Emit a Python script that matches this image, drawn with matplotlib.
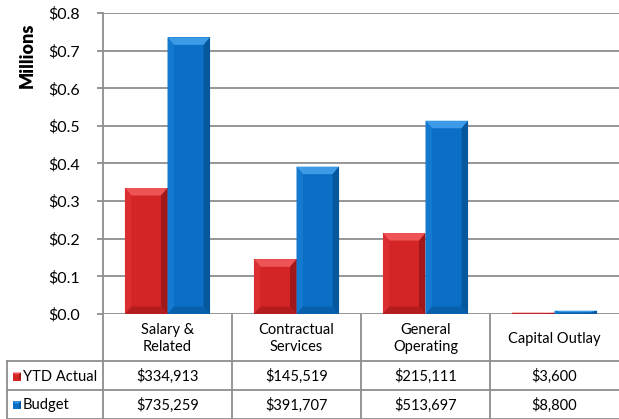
import matplotlib
matplotlib.use("Agg")
import matplotlib.pyplot as plt
from matplotlib.patches import Polygon, Rectangle
from matplotlib.ticker import FuncFormatter, MultipleLocator

plt.rcParams['font.family'] = ['Lato', 'DejaVu Sans']

# Expenditure data (dollars)
categories = ["Salary &\nRelated", "Contractual\nServices", "General\nOperating", "Capital Outlay"]
series_names = ["YTD Actual", "Budget"]
ytd_actual = [334913, 145519, 215111, 3600]
budget = [735259, 391707, 513697, 8800]

# face, top-light, side-dark, side-light colours for each series
palette = {
    "YTD Actual": ("#D32426", "#EE5456", "#A0181A", "#DA2E30"),
    "Budget": ("#0B6FC5", "#3C9AE6", "#07579C", "#137AD0"),
}

W, H = 619, 419
fig = plt.figure(figsize=(W / 100, H / 100), dpi=100)

left_px, right_px, top_px, base_px = 103, 619, 13, 314
ax = fig.add_axes([left_px / W, 1 - base_px / H, (right_px - left_px) / W, (base_px - top_px) / H])

ax.set_xlim(-0.5, len(categories) - 0.5)
ax.set_ylim(0, 0.8)
grid_col = "#8E8E8E"
ax.yaxis.set_major_locator(MultipleLocator(0.1))
ax.yaxis.set_major_formatter(FuncFormatter(lambda v, p: f"${v:.1f}"))
ax.grid(axis="y", color=grid_col, linewidth=1.3)
ax.set_axisbelow(True)
ax.set_xticks([])
for s in ["top", "right", "bottom"]:
    ax.spines[s].set_visible(False)
ax.spines["left"].set_color(grid_col)
ax.spines["left"].set_linewidth(1.3)
ax.tick_params(axis="y", direction="out", length=4.3, width=1.3, color=grid_col,
               labelsize=11.5, labelcolor="black", pad=12)


def beveled_bar(axis, x0, width, h, cols):
    face, light, dark, side_light = cols
    axis.bar(x0 + width / 2, h, width=width, color=face, linewidth=0, zorder=3)
    bx = 0.05
    by = min(0.02, h / 2)
    bxs = min(bx, width / 2)
    x1 = x0 + width
    # top facet
    axis.add_patch(Polygon([(x0, h), (x1, h), (x1 - bxs, h - by), (x0 + bxs, h - by)],
                           closed=True, facecolor=light, edgecolor="none", zorder=4))
    # left facet
    axis.add_patch(Polygon([(x0, 0), (x0, h), (x0 + bxs, h - by), (x0 + bxs, by)],
                           closed=True, facecolor=side_light, edgecolor="none", zorder=4))
    # right facet
    axis.add_patch(Polygon([(x1, 0), (x1, h), (x1 - bxs, h - by), (x1 - bxs, by)],
                           closed=True, facecolor=dark, edgecolor="none", zorder=4))
    # bottom facet
    axis.add_patch(Polygon([(x0, 0), (x1, 0), (x1 - bxs, by), (x0 + bxs, by)],
                           closed=True, facecolor=dark, edgecolor="none", alpha=0.6, zorder=4))


bar_w = 0.33
for name, vals, off in [("YTD Actual", ytd_actual, -bar_w), ("Budget", budget, 0.0)]:
    for i, v in enumerate(vals):
        beveled_bar(ax, i + off, bar_w, v / 1e6, palette[name])

fig.text(27 / W, 1 - 55 / H, "Millions", rotation=90, fontsize=13, fontweight="heavy",
         ha="center", va="center")

# Data table drawn on an overlay in pixel coordinates
ov = fig.add_axes([0, 0, 1, 1], zorder=5)
ov.set_xlim(0, W)
ov.set_ylim(H, 0)
ov.axis("off")
ov.patch.set_alpha(0)

col_edges = [left_px + (right_px - left_px) * k / len(categories) for k in range(len(categories) + 1)]
row_edges = [base_px, 361, 390, 418.5]
label_left = 7
lc = grid_col
lw = 1.3

for k, xe in enumerate(col_edges[:-1]):
    ov.plot([xe, xe], [base_px, row_edges[-1]], color=lc, lw=lw, solid_capstyle="butt")
ov.plot([label_left, label_left], [row_edges[1], row_edges[-1]], color=lc, lw=lw)
for ye in row_edges[1:]:
    ov.plot([label_left, W], [ye, ye], color=lc, lw=lw)

fs = 10.5
fmt = lambda v: f"${v:,.0f}"
for i, cat in enumerate(categories):
    cx = (col_edges[i] + col_edges[i + 1]) / 2
    ov.text(cx, (row_edges[0] + row_edges[1]) / 2 + 1, cat, ha="center", va="center",
            fontsize=fs, linespacing=1.2)
    ov.text(cx, (row_edges[1] + row_edges[2]) / 2 + 1, fmt(ytd_actual[i]), ha="center", va="center", fontsize=fs)
    ov.text(cx, (row_edges[2] + row_edges[3]) / 2 + 1, fmt(budget[i]), ha="center", va="center", fontsize=fs)

for r, name in enumerate(series_names):
    yc = (row_edges[r + 1] + row_edges[r + 2]) / 2 + 1
    face, light, dark, side_light = palette[name]
    sx, s = 13, 8
    ov.add_patch(Rectangle((sx, yc - s / 2), s, s, facecolor=face, edgecolor="none"))
    ov.add_patch(Polygon([(sx, yc - s / 2), (sx + s, yc - s / 2), (sx + s - 2, yc - s / 2 + 2),
                          (sx + 2, yc - s / 2 + 2)], facecolor=light, edgecolor="none"))
    ov.add_patch(Polygon([(sx + s, yc - s / 2), (sx + s, yc + s / 2), (sx + s - 2, yc + s / 2 - 2),
                          (sx + s - 2, yc - s / 2 + 2)], facecolor=dark, edgecolor="none"))
    ov.text(sx + s + 2, yc, name, ha="left", va="center", fontsize=fs)

fig.savefig("out.png", dpi=100)
